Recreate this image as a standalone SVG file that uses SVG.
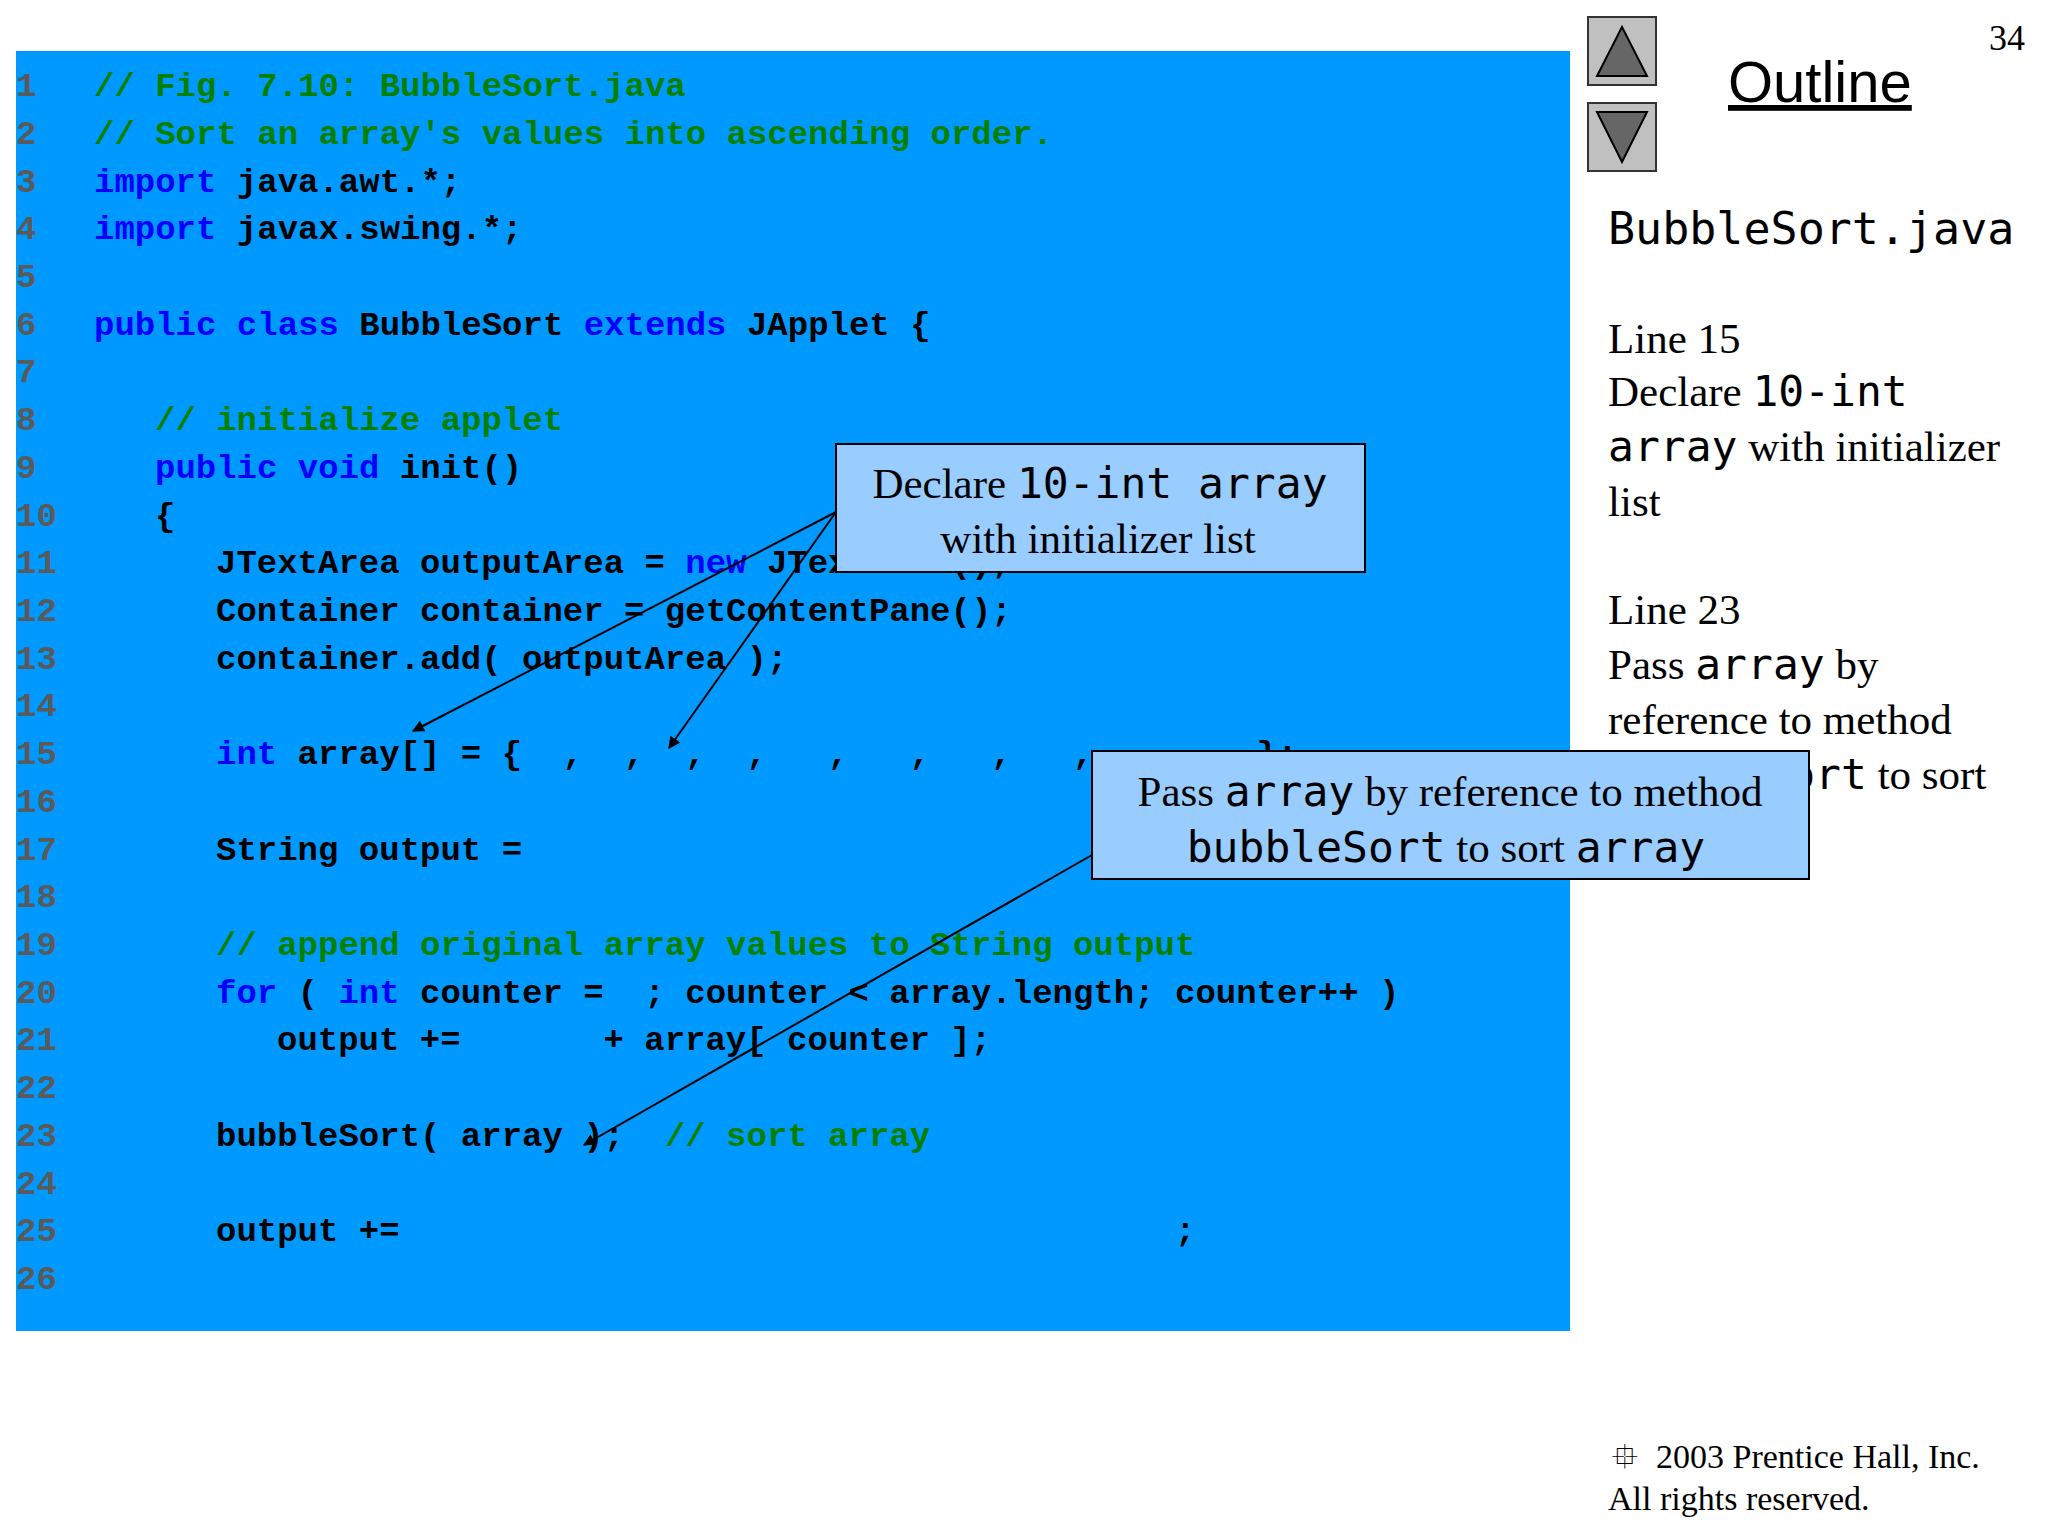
<svg xmlns="http://www.w3.org/2000/svg" width="2048" height="1536" viewBox="0 0 2048 1536">
<defs>
<style>
.code{font-family:"Liberation Mono",monospace;font-weight:bold;font-size:34px}
.ln{fill:#5a5a5a}
.k{fill:#0000ff}
.c{fill:#008000}
.t{fill:#000}
.serif{font-family:"Liberation Serif",serif;fill:#000}
.mono{font-family:"DejaVu Sans Mono",monospace}
.callout{fill:#99ccff;stroke:#000;stroke-width:2}
.conn{stroke:#000;stroke-width:2;fill:none;marker-end:url(#ah)}
</style>
<marker id="ah" viewBox="0 0 10 10" refX="9" refY="5" markerWidth="14" markerHeight="12" orient="auto" markerUnits="userSpaceOnUse">
<path d="M0,0 L10,5 L0,10 z" fill="#000"/>
</marker>
</defs>
<rect width="2048" height="1536" fill="#fff"/>
<rect x="16" y="51" width="1554" height="1280" fill="#0099ff"/>
<g id="code" class="code">
<text x="16" y="96" class="ln">1</text><text x="94" y="96" class="c">// Fig. 7.10: BubbleSort.java</text>
<text x="16" y="144" class="ln">2</text><text x="94" y="144" class="c">// Sort an array's values into ascending order.</text>
<text x="16" y="192" class="ln">3</text><text x="94" y="192"><tspan class="k">import</tspan><tspan class="t">&#160;java.awt.*;</tspan></text>
<text x="16" y="239" class="ln">4</text><text x="94" y="239"><tspan class="k">import</tspan><tspan class="t">&#160;javax.swing.*;</tspan></text>
<text x="16" y="287" class="ln">5</text>
<text x="16" y="335" class="ln">6</text><text x="94" y="335"><tspan class="k">public class</tspan><tspan class="t">&#160;BubbleSort&#160;</tspan><tspan class="k">extends</tspan><tspan class="t">&#160;JApplet {</tspan></text>
<text x="16" y="382" class="ln">7</text>
<text x="16" y="430" class="ln">8</text><text x="155" y="430" class="c">// initialize applet</text>
<text x="16" y="478" class="ln">9</text><text x="155" y="478"><tspan class="k">public void</tspan><tspan class="t">&#160;init()</tspan></text>
<text x="16" y="526" class="ln">10</text><text x="155" y="526" class="t">{</text>
<text x="16" y="573" class="ln">11</text><text x="216" y="573"><tspan class="t">JTextArea outputArea =&#160;</tspan><tspan class="k">new</tspan><tspan class="t">&#160;JTextArea();</tspan></text>
<text x="16" y="621" class="ln">12</text><text x="216" y="621" class="t">Container container = getContentPane();</text>
<text x="16" y="669" class="ln">13</text><text x="216" y="669" class="t">container.add( outputArea );</text>
<text x="16" y="716" class="ln">14</text>
<text x="16" y="764" class="ln">15</text><text x="216" y="764"><tspan class="k">int</tspan><tspan class="t">&#160;array[] = {&#160;&#160;,&#160;&#160;,&#160;&#160;,&#160;&#160;,&#160;&#160;&#160;,&#160;&#160;&#160;,&#160;&#160;&#160;,&#160;&#160;&#160;,&#160;&#160;&#160;,&#160;&#160;&#160;&#160;};</tspan></text>
<text x="16" y="812" class="ln">16</text>
<text x="16" y="860" class="ln">17</text><text x="216" y="860" class="t">String output =</text>
<text x="16" y="907" class="ln">18</text>
<text x="16" y="955" class="ln">19</text><text x="216" y="955" class="c">// append original array values to String output</text>
<text x="16" y="1003" class="ln">20</text><text x="216" y="1003"><tspan class="k">for</tspan><tspan class="t">&#160;(&#160;</tspan><tspan class="k">int</tspan><tspan class="t">&#160;counter =&#160;&#160;; counter &lt; array.length; counter++ )</tspan></text>
<text x="16" y="1050" class="ln">21</text><text x="277" y="1050" class="t">output +=&#160;&#160;&#160;&#160;&#160;&#160;&#160;+ array[ counter ];</text>
<text x="16" y="1098" class="ln">22</text>
<text x="16" y="1146" class="ln">23</text><text x="216" y="1146"><tspan class="t">bubbleSort( array );&#160;&#160;</tspan><tspan class="c">// sort array</tspan></text>
<text x="16" y="1194" class="ln">24</text>
<text x="16" y="1241" class="ln">25</text><text x="216" y="1241" class="t">output +=</text><text x="1175" y="1241" class="t">;</text>
<text x="16" y="1289" class="ln">26</text>
</g>
<g id="connectors">
<line x1="836" y1="512" x2="413" y2="731" class="conn"/>
<line x1="836" y1="512" x2="669" y2="748" class="conn"/>
<line x1="1092" y1="855" x2="584" y2="1145" class="conn"/>
</g>
<g id="callout1">
<rect x="836" y="444" width="529" height="128" class="callout"/>
<text x="1100" y="498" text-anchor="middle" class="serif" font-size="43">Declare <tspan class="mono">10-int array</tspan></text>
<text x="1098" y="553" text-anchor="middle" class="serif" font-size="43">with initializer list</text>
</g>
<g id="nav">
<rect x="1588" y="17" width="68" height="68" fill="#c0c0c0" stroke="#333" stroke-width="2"/>
<polygon points="1622,27 1647,76 1597,76" fill="#666" stroke="#000" stroke-width="2"/>
<rect x="1588" y="103" width="68" height="68" fill="#c0c0c0" stroke="#333" stroke-width="2"/>
<polygon points="1597,112 1647,112 1622,162" fill="#666" stroke="#000" stroke-width="2"/>
</g>
<text x="2007" y="50" text-anchor="middle" class="serif" font-size="36">34</text>
<text x="1728" y="102" font-family="Liberation Sans,sans-serif" font-size="58" text-decoration="underline" fill="#000">Outline</text>
<g id="sidebar" class="serif" font-size="43">
<text x="1608" y="244" class="mono" font-size="45">BubbleSort.java</text>
<text x="1608" y="353">Line 15</text>
<text x="1608" y="406">Declare <tspan class="mono">10-int</tspan></text>
<text x="1608" y="461"><tspan class="mono">array</tspan> with initializer</text>
<text x="1608" y="516">list</text>
<text x="1608" y="624">Line 23</text>
<text x="1608" y="679">Pass <tspan class="mono">array</tspan> by</text>
<text x="1608" y="734">reference to method</text>
<text x="1608" y="789"><tspan class="mono">bubbleSort</tspan> to sort</text>
</g>
<g id="callout2">
<rect x="1092" y="751" width="717" height="128" class="callout"/>
<text x="1450" y="806" text-anchor="middle" class="serif" font-size="43">Pass <tspan class="mono">array</tspan> by reference to method</text>
<text x="1446" y="862" text-anchor="middle" class="serif" font-size="43"><tspan class="mono">bubbleSort</tspan> to sort <tspan class="mono">array</tspan></text>
</g>
<text x="1612" y="1468" class="serif" font-size="34">⯐</text>
<text x="1656" y="1468" class="serif" font-size="34">2003 Prentice Hall, Inc.</text>
<text x="1608" y="1510" class="serif" font-size="34">All rights reserved.</text>
</svg>
